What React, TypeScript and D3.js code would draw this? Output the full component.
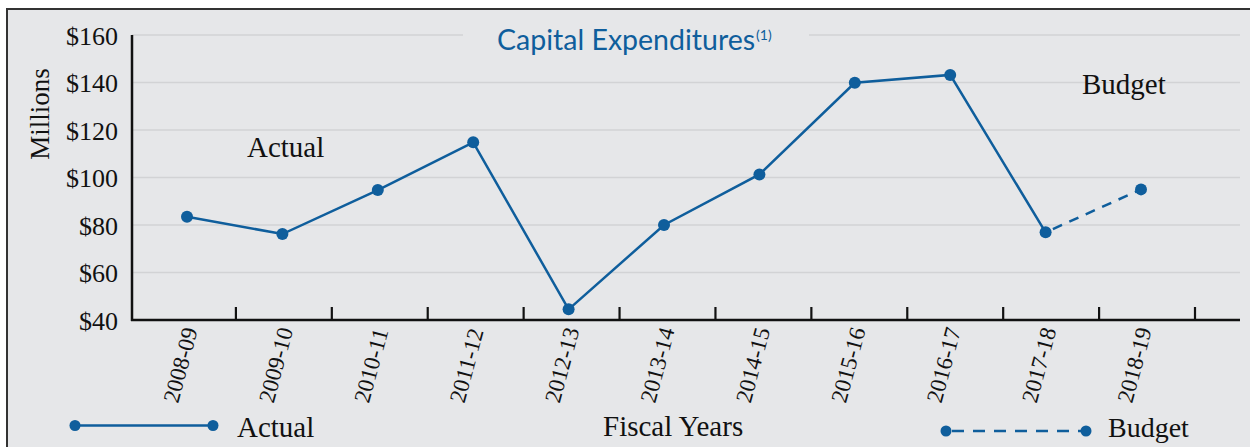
import React from "react";
import * as d3 from "d3";

const categories = [
  "2008-09", "2009-10", "2010-11", "2011-12", "2012-13", "2013-14",
  "2014-15", "2015-16", "2016-17", "2017-18", "2018-19",
];
const actualCategories = categories.slice(0, 10);
const actualValues = [83.5, 76.2, 94.7, 114.8, 44.5, 80, 101.3, 139.9, 143.2, 76.9];
const budgetCategories = ["2017-18", "2018-19"];
const budgetValues = [76.9, 95];
const yTicks = [40, 60, 80, 100, 120, 140, 160];

const W = 1250;
const H = 447;
const BLUE = "#0f5e9c";
const BG = "#e6e7e9";
const GRID = "#d2d3d5";
const SERIF = "'Liberation Serif', 'DejaVu Serif', serif";

export default function App() {
  const y = d3.scaleLinear().domain([40, 160]).range([320, 35]);
  const xp = d3.scalePoint<string>().domain(categories).range([187, 1141]);
  const xb = d3.scaleBand<string>().domain(categories).range([140, 1195]);

  const line = d3
    .line<[string, number]>()
    .x((d) => xp(d[0]) as number)
    .y((d) => y(d[1]));

  const actualData: [string, number][] = actualCategories.map((c, i) => [c, actualValues[i]]);
  const budgetData: [string, number][] = budgetCategories.map((c, i) => [c, budgetValues[i]]);

  const axisLeft = 132;
  const axisRight = 1240;

  return (
    <svg
      width={W}
      height={H}
      style={{ position: "absolute", left: 0, top: 0, background: "#fff" }}
    >
      <rect x={7} y={9} width={W} height={H} fill={BG} stroke="#333" strokeWidth={2} />

      {/* gridlines */}
      {yTicks.map((t) => (
        <line key={t} x1={axisLeft} x2={axisRight} y1={y(t)} y2={y(t)} stroke={GRID} strokeWidth={1.3} />
      ))}

      {/* title */}
      <rect x={463} y={20} width={346} height={36} fill={BG} />
      <text x={497} y={50} fill={BLUE} fontFamily="Lato, 'Noto Sans', sans-serif" fontSize={28.5}>
        Capital Expenditures
        <tspan dx={1} dy={-10} fontSize={14}>(1)</tspan>
      </text>

      {/* y tick labels */}
      {yTicks.map((t) => (
        <text
          key={t}
          x={118}
          y={y(t)}
          dy="0.38em"
          textAnchor="end"
          fontFamily={SERIF}
          fontSize={26}
          fill="#111"
        >
          {"$" + t}
        </text>
      ))}
      <text
        transform="translate(49,114) rotate(-90)"
        textAnchor="middle"
        fontFamily={SERIF}
        fontSize={27}
        fill="#111"
      >
        Millions
      </text>

      {/* axes */}
      <line x1={axisLeft} x2={axisLeft} y1={35} y2={321} stroke="#111" strokeWidth={2.5} />
      <line x1={axisLeft - 1} x2={axisRight} y1={320} y2={320} stroke="#111" strokeWidth={2.5} />
      {categories.map((c) => {
        const tx = (xb(c) as number) + xb.bandwidth();
        return <line key={c} x1={tx} x2={tx} y1={307} y2={320} stroke="#111" strokeWidth={2.2} />;
      })}

      {/* x tick labels */}
      {categories.map((c) => {
        const ax = (xp(c) as number) - 9;
        return (
          <text
            key={c}
            transform={`translate(${ax},404) rotate(-75)`}
            textAnchor="start"
            fontFamily={SERIF}
            fontSize={23}
            fill="#111"
          >
            {c}
          </text>
        );
      })}

      {/* series */}
      <path d={line(actualData) || ""} fill="none" stroke={BLUE} strokeWidth={2.5} />
      <path d={line(budgetData) || ""} fill="none" stroke={BLUE} strokeWidth={2.5} strokeDasharray="10,8" strokeDashoffset={-8} />
      {actualData.map((d) => (
        <circle key={"a" + d[0]} cx={xp(d[0])} cy={y(d[1])} r={6} fill={BLUE} />
      ))}
      {budgetData.slice(1).map((d) => (
        <circle key={"b" + d[0]} cx={xp(d[0])} cy={y(d[1])} r={6} fill={BLUE} />
      ))}

      {/* annotations */}
      <text x={247} y={157} fontFamily={SERIF} fontSize={29} fill="#111">Actual</text>
      <text x={1082} y={94} fontFamily={SERIF} fontSize={29} fill="#111">Budget</text>

      {/* legend */}
      <line x1={75} x2={213} y1={425.5} y2={425.5} stroke={BLUE} strokeWidth={2.5} />
      <circle cx={75} cy={425.5} r={5.5} fill={BLUE} />
      <circle cx={213} cy={425.5} r={5.5} fill={BLUE} />
      <text x={237} y={437} fontFamily={SERIF} fontSize={29} fill="#111">Actual</text>

      <text x={603} y={436} fontFamily={SERIF} fontSize={29} fill="#111">Fiscal Years</text>

      <line x1={946} x2={1086} y1={431} y2={431} stroke={BLUE} strokeWidth={2.5} strokeDasharray="12,9" strokeDashoffset={-6} />
      <circle cx={946} cy={431} r={5.5} fill={BLUE} />
      <circle cx={1086} cy={431} r={5.5} fill={BLUE} />
      <text x={1108} y={437} fontFamily={SERIF} fontSize={28} fill="#111">Budget</text>
    </svg>
  );
}
